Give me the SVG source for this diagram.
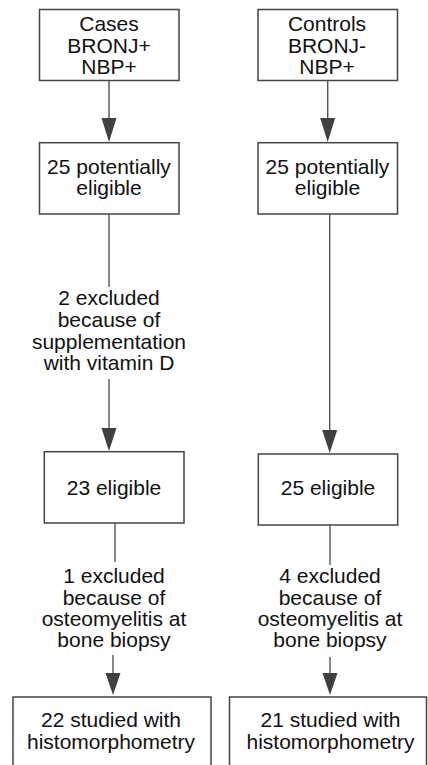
<svg xmlns="http://www.w3.org/2000/svg" width="428" height="765" viewBox="0 0 428 765">
<style>
.box{fill:#fff;stroke:#444;stroke-width:1.5}
.ln{stroke:#555;stroke-width:1.4;fill:none}
.ah{fill:#404040}
text{font-family:"Liberation Sans",Arial,sans-serif;font-size:21px;fill:#111;text-anchor:middle}
</style>
<rect width="428" height="765" fill="#fff"/>
<g id="connectors">
<line class="ln" x1="109" y1="80.5" x2="109" y2="122"/>
<polygon class="ah" points="101.5,118 116.5,118 109,142"/>
<line class="ln" x1="327.7" y1="80.5" x2="327.7" y2="122"/>
<polygon class="ah" points="320.2,118 335.2,118 327.7,142"/>
<line class="ln" x1="109" y1="214" x2="109" y2="287"/>
<line class="ln" x1="109" y1="379" x2="109" y2="432"/>
<polygon class="ah" points="101.5,428 116.5,428 109,451"/>
<line class="ln" x1="329.7" y1="214" x2="329.7" y2="434"/>
<polygon class="ah" points="322.2,430 337.2,430 329.7,453"/>
<line class="ln" x1="115" y1="523" x2="115" y2="562"/>
<line class="ln" x1="113" y1="655" x2="113" y2="677"/>
<polygon class="ah" points="105.5,673 120.5,673 113,695"/>
<line class="ln" x1="330" y1="525" x2="330" y2="565"/>
<line class="ln" x1="330" y1="657" x2="330" y2="677"/>
<polygon class="ah" points="322.5,673 337.5,673 330,695"/>
</g>
<g id="cases">
<rect class="box" x="39.5" y="9.5" width="139.5" height="71"/>
<text x="109" y="31">Cases</text>
<text x="109" y="52.5">BRONJ+</text>
<text x="109" y="74">NBP+</text>
</g>
<g id="controls">
<rect class="box" x="258" y="9.5" width="139.5" height="71"/>
<text x="327" y="31">Controls</text>
<text x="327" y="52.5">BRONJ-</text>
<text x="327" y="74">NBP+</text>
</g>
<g id="cases-potential">
<rect class="box" x="39.5" y="142.7" width="139.5" height="71.3"/>
<text x="109" y="174">25 potentially</text>
<text x="109" y="195">eligible</text>
</g>
<g id="controls-potential">
<rect class="box" x="258" y="142.7" width="139.5" height="71.3"/>
<text x="327.5" y="174">25 potentially</text>
<text x="327.5" y="195">eligible</text>
</g>
<g id="excl-vitd">
<text x="109" y="305">2 excluded</text>
<text x="109" y="327">because of</text>
<text x="109" y="348.5">supplementation</text>
<text x="109" y="370">with vitamin D</text>
</g>
<g id="cases-eligible">
<rect class="box" x="44.3" y="451.7" width="139.7" height="71.3"/>
<text x="114" y="495">23 eligible</text>
</g>
<g id="controls-eligible">
<rect class="box" x="258.3" y="454" width="139.4" height="71"/>
<text x="328" y="495">25 eligible</text>
</g>
<g id="excl-osteo-cases">
<text x="114" y="583">1 excluded</text>
<text x="114" y="605">because of</text>
<text x="114" y="626">osteomyelitis at</text>
<text x="114" y="647">bone biopsy</text>
</g>
<g id="excl-osteo-controls">
<text x="330" y="583">4 excluded</text>
<text x="330" y="605">because of</text>
<text x="330" y="626">osteomyelitis at</text>
<text x="330" y="647">bone biopsy</text>
</g>
<g id="cases-studied">
<rect class="box" x="13" y="697" width="198" height="80"/>
<text x="111" y="727">22 studied with</text>
<text x="111" y="748.5">histomorphometry</text>
</g>
<g id="controls-studied">
<rect class="box" x="229.5" y="697" width="197" height="80"/>
<text x="330.5" y="727">21 studied with</text>
<text x="330.5" y="748.5">histomorphometry</text>
</g>
</svg>
